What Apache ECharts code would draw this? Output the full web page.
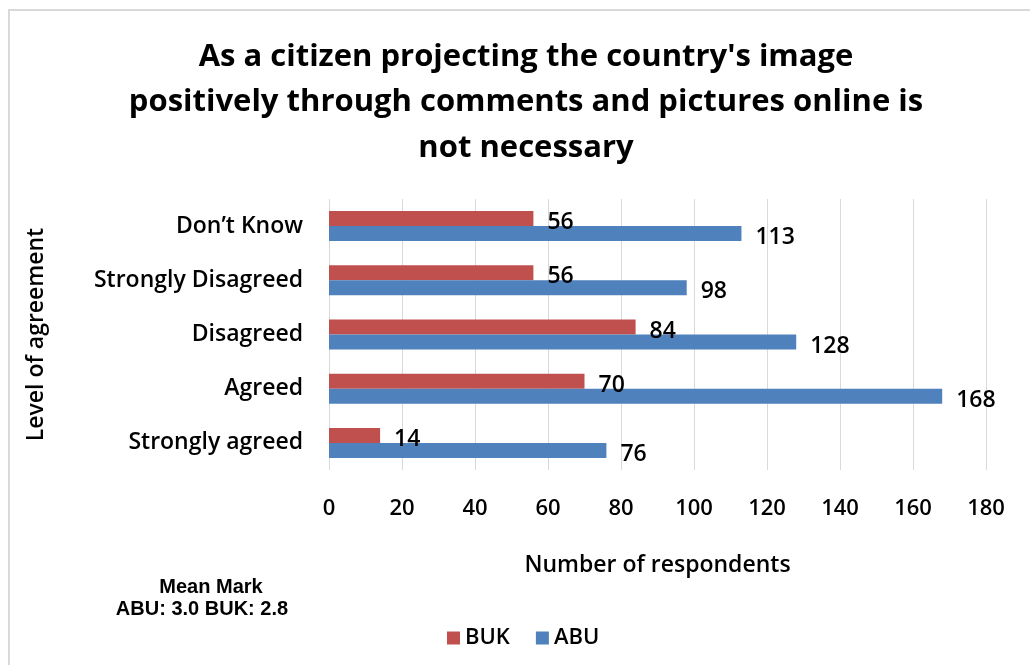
<!DOCTYPE html>
<html>
<head>
<meta charset="utf-8">
<script src="https://cdn.jsdelivr.net/npm/echarts@6/dist/echarts.min.js"></script>
<style>
  html, body { margin: 0; padding: 0; background: #ffffff; }
  #chart { width: 1030px; height: 665px; }
</style>
</head>
<body>
<div id="chart"></div>
<script>
// Response categories, bottom to top on the value axis
const categories = ['Strongly agreed', 'Agreed', 'Disagreed', 'Strongly Disagreed', 'Don\u2019t Know'];
// Respondent counts per university
const bukValues = [14, 70, 84, 56, 56];
const abuValues = [76, 168, 128, 98, 113];
const xTicks = { min: 0, max: 180, interval: 20 };

const FONT = '"Open Sans", "Noto Sans", sans-serif';
const chart = echarts.init(document.getElementById('chart'), null, { renderer: 'canvas' });

const labelStyle = {
  show: true,
  position: 'right',
  distance: 14,
  offset: [0, 4],
  color: '#000000',
  fontFamily: FONT,
  fontWeight: 600,
  fontSize: 23
};

chart.setOption({
  backgroundColor: '#ffffff',
  animation: false,
  title: {
    text: 'As a citizen projecting the country\'s image\npositively through comments and pictures online is\nnot necessary',
    left: 521,
    top: 29,
    textAlign: 'center',
    textStyle: {
      fontFamily: FONT,
      fontWeight: 'bold',
      fontSize: 31,
      lineHeight: 45.5,
      color: '#000000'
    }
  },
  legend: {
    data: ['BUK', 'ABU'],
    left: 442,
    top: 622,
    itemWidth: 13,
    itemHeight: 13,
    itemGap: 26,
    icon: 'rect',
    textStyle: { fontFamily: FONT, fontWeight: 600, fontSize: 22, color: '#000000' }
  },
  grid: { left: 329, right: 44, top: 199, bottom: 195, containLabel: false },
  xAxis: {
    type: 'value',
    min: xTicks.min,
    max: xTicks.max,
    interval: xTicks.interval,
    name: 'Number of respondents',
    nameLocation: 'middle',
    nameGap: 84,
    nameTextStyle: { fontFamily: FONT, fontWeight: 600, fontSize: 23, color: '#000000' },
    axisLine: { show: false },
    axisTick: { show: false },
    axisLabel: { fontFamily: FONT, fontWeight: 600, fontSize: 22, color: '#000000', margin: 28 },
    splitLine: { show: true, lineStyle: { color: '#d9d9d9', width: 1 } }
  },
  yAxis: {
    type: 'category',
    data: categories,
    name: 'Level of agreement',
    nameLocation: 'middle',
    nameGap: 281,
    nameRotate: 90,
    nameTextStyle: { fontFamily: FONT, fontWeight: 600, fontSize: 23, color: '#000000' },
    axisLine: { show: false },
    axisTick: { show: false },
    axisLabel: { fontFamily: FONT, fontWeight: 600, fontSize: 23, color: '#000000', margin: 26 }
  },
  series: [
    {
      name: 'BUK',
      type: 'bar',
      data: bukValues,
      barWidth: 15,
      barGap: '0%',
      itemStyle: { color: '#c0504d' },
      label: labelStyle
    },
    {
      name: 'ABU',
      type: 'bar',
      data: abuValues,
      barWidth: 15,
      barGap: '0%',
      itemStyle: { color: '#4f81bd' },
      label: labelStyle
    }
  ],
  graphic: [
    {
      type: 'rect',
      shape: { x: 9, y: 10, width: 1100, height: 700 },
      style: { fill: 'none', stroke: '#d9d9d9', lineWidth: 2 },
      silent: true
    },
    {
      type: 'text',
      style: {
        x: 211,
        y: 587,
        text: 'Mean Mark',
        align: 'center',
        verticalAlign: 'middle',
        fontFamily: '"Liberation Sans", Arial, sans-serif',
        fontWeight: 'bold',
        fontSize: 20,
        fill: '#000000'
      }
    },
    {
      type: 'text',
      style: {
        x: 202,
        y: 609,
        text: 'ABU: 3.0 BUK: 2.8',
        align: 'center',
        verticalAlign: 'middle',
        fontFamily: '"Liberation Sans", Arial, sans-serif',
        fontWeight: 'bold',
        fontSize: 20,
        fill: '#000000'
      }
    }
  ]
});
</script>
</body>
</html>
